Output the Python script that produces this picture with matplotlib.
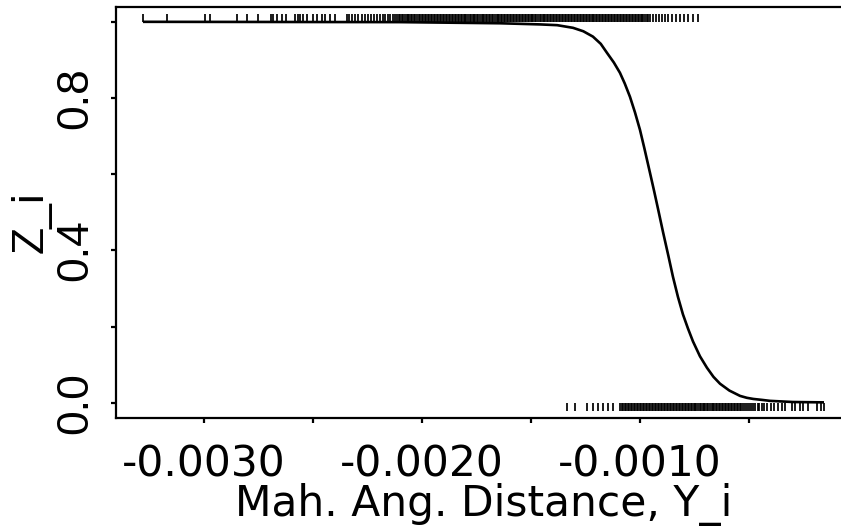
import numpy as np
import matplotlib
matplotlib.use("Agg")
import matplotlib.pyplot as plt

plt.rcParams['font.family'] = ['DejaVu Sans']
plt.rcParams['axes.unicode_minus'] = False

# ---- data (x values in units of 1e-4) ----
curve_x_e4 = [-32.80, -21.01, -16.42, -14.59, -13.80, -13.07, -12.60, -12.16, -11.80,
              -11.51, -11.20, -10.92, -10.70, -10.46, -10.23, -10.00, -9.80, -9.54,
              -9.35, -9.17, -8.94, -8.70, -8.49, -8.26, -8.03, -7.80, -7.57, -7.25,
              -6.93, -6.63, -6.33, -5.90, -5.41, -5.10, -4.80, -4.40, -4.04, -3.00,
              -2.30, -1.56]
curve_y = [0.9998, 0.999, 0.996, 0.993, 0.991, 0.984, 0.975, 0.961, 0.942,
           0.918, 0.893, 0.866, 0.838, 0.803, 0.762, 0.716, 0.668, 0.603,
           0.555, 0.508, 0.447, 0.386, 0.331, 0.278, 0.232, 0.195, 0.161, 0.122,
           0.092, 0.068, 0.050, 0.032, 0.018, 0.013, 0.010, 0.0075, 0.005, 0.002,
           0.0015, 0.001]

top_rug_e4 = [
    -32.80, -31.70, -29.95, -29.72, -28.49, -28.03, -27.52, -26.93, -26.83, -26.65,
    -26.42, -26.24, -25.83, -25.69, -25.60, -25.46, -25.28, -25.00, -24.82, -24.59,
    -24.45, -24.22, -23.99, -23.44, -23.35, -23.21, -23.07, -22.94, -22.75, -22.61,
    -22.48, -22.34, -22.20, -22.06, -21.93, -21.79, -21.70, -21.56, -21.47, -21.33,
    -21.24, -21.15, -21.06,
    -21.00, -20.93, -20.85, -20.80, -20.71, -20.66, -20.58, -20.49, -20.44, -20.37,
    -20.30, -20.21, -20.15, -20.09, -20.01, -19.95, -19.86, -19.80, -19.74, -19.66,
    -19.59, -19.52, -19.47, -19.39, -19.31, -19.26, -19.18, -19.12, -19.05, -18.97,
    -18.90, -18.84, -18.78, -18.70, -18.63, -18.57, -18.49, -18.44, -18.36, -18.29,
    -18.22, -18.15, -18.09, -18.01, -17.96, -17.88, -17.81, -17.75, -17.68, -17.60,
    -17.55, -17.47, -17.41, -17.33, -17.27, -17.20, -17.14, -17.06, -17.00, -16.93,
    -16.86, -16.79, -16.73, -16.66, -16.58, -16.52, -16.46, -16.38, -16.31, -16.25,
    -16.18, -16.11, -16.04, -15.98, -15.90, -15.84, -15.77, -15.70, -15.64, -15.56,
    -15.50, -15.43, -15.36, -15.29, -15.23, -15.15, -15.09, -15.02, -14.95, -14.89,
    -14.81, -14.75, -14.68, -14.61, -14.55, -14.47, -14.41, -14.34, -14.27, -14.21,
    -14.13, -14.07, -14.00, -13.93, -13.86, -13.80, -13.72, -13.66, -13.59, -13.52,
    -13.46, -13.38, -13.32, -13.25, -13.18, -13.11, -13.05, -12.97, -12.91, -12.84,
    -12.77, -12.71, -12.63, -12.57, -12.50, -12.43, -12.36, -12.30, -12.22, -12.16,
    -12.09, -12.02, -11.96, -11.88, -11.82, -11.75, -11.68, -11.61, -11.55, -11.47,
    -11.41, -11.34, -11.27, -11.21, -11.13, -11.07, -11.00, -10.93, -10.86, -10.80,
    -10.72, -10.66, -10.59, -10.52, -10.46, -10.38, -10.32, -10.25, -10.18, -10.11,
    -10.05, -9.97, -9.91, -9.84, -9.77, -9.70, -9.64,
    -9.54, -9.40, -9.27, -9.13, -8.99, -8.85, -8.72, -8.53, -8.35, -8.17, -7.98,
    -7.80, -7.57, -7.34]

bottom_rug_e4 = [
    -13.35, -12.98, -12.43, -12.16, -11.93, -11.70, -11.47, -11.24, -10.92,
    -10.83, -10.76, -10.70, -10.62, -10.55, -10.49, -10.41, -10.35, -10.28, -10.21,
    -10.14, -10.08, -10.00, -9.94, -9.87, -9.80, -9.73, -9.67, -9.59, -9.53,
    -9.46, -9.39, -9.32, -9.26, -9.18, -9.12, -9.05, -8.98, -8.91, -8.85,
    -8.77, -8.71, -8.64, -8.57, -8.50, -8.44, -8.36, -8.30, -8.23, -8.16,
    -8.09, -8.03, -7.95, -7.89, -7.82, -7.75, -7.68, -7.62, -7.54, -7.48,
    -7.41, -7.34, -7.27, -7.21, -7.13, -7.07, -7.00, -6.93, -6.86, -6.80,
    -6.72, -6.66, -6.59, -6.52, -6.45, -6.39, -6.31, -6.25, -6.18, -6.11,
    -6.04, -5.98, -5.90, -5.84, -5.77, -5.70, -5.63, -5.57, -5.49, -5.43,
    -5.36, -5.29, -5.20, -5.10, -5.02, -4.91, -4.83, -4.72, -4.61, -4.52,
    -4.40, -4.30, -4.17,
    -3.99, -3.85, -3.67, -3.49, -3.35, -3.03, -2.89, -2.66, -2.52, -2.29,
    -1.88, -1.72, -1.56]

x_ticks_e4 = [-30, -25, -20, -15, -10, -5]
x_tick_labels = ["-0.0030", "", "-0.0020", "", "-0.0010", ""]
y_ticks = [0.0, 0.2, 0.4, 0.6, 0.8, 1.0]
y_tick_labels = ["0.0", "", "0.4", "", "0.8", ""]

xlabel = "Mah. Ang. Distance, Y_i"
ylabel = "Z_i"

E4 = 1e-4
cx = np.array(curve_x_e4) * E4
tx = np.array(top_rug_e4) * E4
bx = np.array(bottom_rug_e4) * E4

W, H = 841, 529
fig = plt.figure(figsize=(W / 100, H / 100), dpi=100)
# axes extends past the right edge of the figure (right frame line is cut off)
px_per_unit = 218000.0
left_px, right_px = 116, 880
x0 = -0.0030 + (left_px - 204) / px_per_unit
x1 = -0.0030 + (right_px - 204) / px_per_unit
ax = fig.add_axes([left_px / W, (H - 418) / H, (right_px - left_px) / W, 411.5 / H])

ax.plot(cx, curve_y, color='black', lw=1.9, solid_capstyle='butt',
        solid_joinstyle='round')
ax.vlines(tx, 1.0, 1.021, color='black', lw=1.25)
ax.vlines(bx, -0.021, 0.0, color='black', lw=1.25)

ax.set_xlim(x0, x1)
ax.set_ylim(-0.04, 1.04)

for s in ax.spines.values():
    s.set_linewidth(1.6)
    s.set_color('black')
ax.spines['right'].set_visible(False)

FS = 30.5
ax.set_xticks(np.array(x_ticks_e4) * E4)
ax.set_xticklabels(x_tick_labels)
ax.set_yticks(y_ticks)
ax.set_yticklabels(y_tick_labels, rotation=90, va='center')
ax.tick_params(axis='both', direction='out', length=3.5, width=1.6,
               colors='black')
ax.tick_params(axis='x', labelsize=FS, pad=15)
ax.tick_params(axis='y', pad=11)
for lab in ax.get_yticklabels():
    lab.set_fontfamily('Liberation Sans')
    lab.set_fontsize(32)

ax.set_xlabel(xlabel, fontsize=FS)
ax.xaxis.set_label_coords((484 - left_px) / (right_px - left_px), -(505 - 418) / 411.5)
ax.xaxis.label.set_va('center')
ax.set_ylabel(ylabel, fontsize=32, family='Liberation Sans')
ax.yaxis.set_label_coords(-(116 - 31) / (right_px - left_px), (418 - 222) / 411.5)
ax.yaxis.label.set_va('center')

fig.savefig("out.png", dpi=100)
